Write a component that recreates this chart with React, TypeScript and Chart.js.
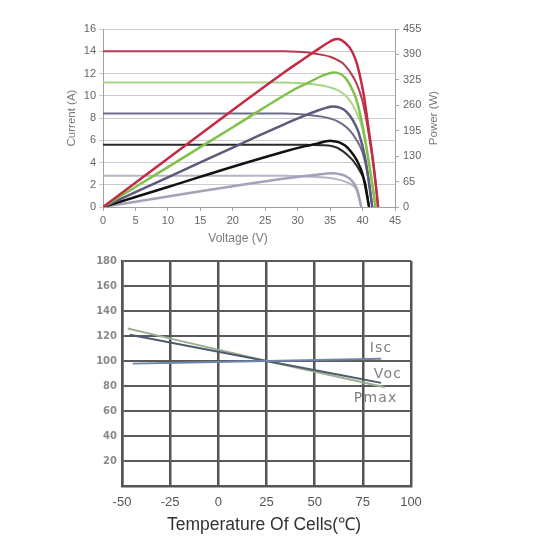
import { useEffect, useRef } from "react";
import { Chart, registerables } from "chart.js";

Chart.register(...registerables);

// ---------- I-V and P-V characteristics at five irradiance levels ----------
// Current curves (A, left axis)
const ivRedV = [0, 28, 30, 32, 34, 35, 36, 37, 38, 39, 40, 41, 42, 42.4];
const ivRedI = [14, 14, 13.95, 13.85, 13.65, 13.5, 13.25, 12.9, 12.2, 11.2, 9.5, 6.4, 2.3, 0];
const ivGreenV = [0, 28, 30, 32, 34, 35, 36, 37, 38, 39, 40, 41, 42];
const ivGreenI = [11.2, 11.2, 11.15, 11.05, 10.9, 10.75, 10.55, 10.2, 9.6, 8.6, 7.0, 4.0, 0];
const ivSlateV = [0, 28, 30, 32, 34, 35, 36, 37, 38, 39, 40, 41, 41.5];
const ivSlateI = [8.4, 8.4, 8.35, 8.25, 8.1, 7.95, 7.75, 7.4, 6.9, 6.1, 4.9, 2.2, 0];
const ivBlackV = [0, 28, 30, 32, 34, 36, 37, 38, 38.5, 39, 39.8, 40.4, 41];
const ivBlackI = [5.6, 5.6, 5.6, 5.58, 5.55, 5.35, 5.0, 4.5, 4.2, 3.8, 3.0, 2.2, 0];
const ivGrayV = [0, 28, 31, 33, 35, 36, 37, 38, 39, 39.8];
const ivGrayI = [2.8, 2.8, 2.75, 2.7, 2.6, 2.5, 2.35, 2.1, 1.6, 0];

// Power curves (W, right axis)
const pvRedV = [0, 10, 20, 28, 30.8, 32.5, 34, 35, 35.8, 36.8, 38, 38.9, 39.6, 40.2, 40.8, 41.6, 42.4];
const pvRedP = [0, 124, 248, 345, 377, 396, 413, 423, 429, 426, 408, 378, 335, 285, 215, 120, 0];
const pvGreenV = [0, 10, 20, 28.8, 31.9, 34, 35.5, 36.6, 37.5, 38.6, 39.3, 40.2, 41.2, 42];
const pvGreenP = [0, 102, 204, 294, 320, 337, 344, 340, 327, 294, 260, 190, 90, 0];
const pvSlateV = [0, 10, 20, 28, 31, 33, 34.5, 35.3, 36.5, 37.5, 38.5, 39.4, 40.4, 41.5];
const pvSlateP = [0, 76, 152, 212, 233, 246, 254, 257, 254, 244, 222, 190, 125, 0];
const pvBlackV = [0, 10, 20, 28, 31, 33, 34.4, 35.2, 36.3, 37.3, 38.2, 39.1, 40, 41];
const pvBlackP = [0, 51, 103, 142, 155, 162, 168, 169, 166, 157, 142, 120, 84, 0];
const pvGrayV = [0, 10, 20, 28, 31, 33, 34.3, 35.3, 36.4, 37.4, 38.3, 39.1, 39.8];
const pvGrayP = [0, 27, 53, 73, 79, 82.5, 85, 86, 84, 79, 68, 48, 0];

// ---------- Temperature dependence (25 ℃ = 100) ----------
const iscTemp = [-44.5, 25, 84.5];
const iscPct = [97.9, 100, 101.8];
const vocTemp = [-46, 25, 84.5];
const vocPct = [121, 100, 82.5];
const pmaxTemp = [-47, 25, 86.5];
const pmaxPct = [126, 100, 79];

const curveLabels = ["Isc", "Voc", "Pmax"];
const curveLabelAt = [
  [78.6, 110.3],
  [80.7, 89.7],
  [70.3, 69.8],
];

const SANS = '"Liberation Sans", Arial, sans-serif';

const pts = (xs: number[], ys: number[]) => xs.map((x, i) => ({ x, y: ys[i] }));

// smooth = true: rounded spline (power curves); otherwise monotone (I-V curves)
const curve = (xs: number[], ys: number[], color: string, width: number, axis: string, smooth = false) => ({
  data: pts(xs, ys),
  borderColor: color,
  backgroundColor: color,
  borderWidth: width,
  pointRadius: 0,
  fill: false,
  cubicInterpolationMode: smooth ? ("default" as const) : ("monotone" as const),
  tension: smooth ? 0.4 : 0,
  yAxisID: axis,
});

export default function App() {
  const topRef = useRef<HTMLCanvasElement>(null);
  const botRef = useRef<HTMLCanvasElement>(null);

  useEffect(() => {
    const topTitles = {
      id: "topTitles",
      afterDraw(chart: any) {
        const { ctx, chartArea } = chart;
        ctx.save();
        ctx.fillStyle = "#7a7a7a";
        ctx.textAlign = "center";
        ctx.textBaseline = "middle";
        ctx.font = `11.5px ${SANS}`;
        const midY = (chartArea.top + chartArea.bottom) / 2;
        ctx.save();
        ctx.translate(chartArea.left - 31, midY);
        ctx.rotate(-Math.PI / 2);
        ctx.fillText("Current (A)", 0, 0);
        ctx.restore();
        ctx.save();
        ctx.translate(chartArea.right + 39, midY);
        ctx.rotate(-Math.PI / 2);
        ctx.fillText("Power (W)", 0, 0);
        ctx.restore();
        ctx.font = `12px ${SANS}`;
        ctx.fillText("Voltage (V)", chartArea.left + 135, chartArea.bottom + 32);
        ctx.restore();
      },
    };

    const top = new Chart(topRef.current!, {
      type: "line",
      data: {
        datasets: [
          curve(pvRedV, pvRedP, "#c42a45", 2.5, "yP", true),
          curve(ivRedV, ivRedI, "#b53a52", 2, "yI"),
          curve(pvGreenV, pvGreenP, "#7fc24a", 2.5, "yP", true),
          curve(ivGreenV, ivGreenI, "#a8d685", 2, "yI"),
          curve(pvSlateV, pvSlateP, "#5b5a7a", 2.5, "yP", true),
          curve(ivSlateV, ivSlateI, "#6e6e88", 2, "yI"),
          curve(pvBlackV, pvBlackP, "#111111", 2.5, "yP", true),
          curve(ivBlackV, ivBlackI, "#2a2a2a", 2, "yI"),
          curve(pvGrayV, pvGrayP, "#a4a2b8", 2.5, "yP", true),
          curve(ivGrayV, ivGrayI, "#b6b6c2", 2, "yI"),
        ] as any,
      },
      options: {
        responsive: false,
        animation: false,
        devicePixelRatio: 1,
        layout: { padding: { top: 29, left: 0, right: 0, bottom: 0 } },
        plugins: { legend: { display: false }, tooltip: { enabled: false } },
        scales: {
          x: {
            type: "linear",
            min: 0,
            max: 45,
            afterFit: (s: any) => {
              s.height = 53;
            },
            ticks: { stepSize: 5, color: "#666", padding: 3, font: { family: SANS, size: 11 } },
            grid: { drawOnChartArea: false, color: "#a8a8a8", tickLength: 4 },
            border: { color: "#a0a0a0", width: 1 },
          },
          yI: {
            position: "left",
            min: 0,
            max: 16,
            afterFit: (s: any) => {
              s.width = 103;
            },
            ticks: { stepSize: 2, color: "#666", padding: 3, font: { family: SANS, size: 11 } },
            grid: { color: "#cccccc", lineWidth: 1, tickLength: 4 },
            border: { color: "#a0a0a0", width: 1 },
          },
          yP: {
            position: "right",
            min: 0,
            max: 455,
            afterFit: (s: any) => {
              s.width = 155;
            },
            ticks: { stepSize: 65, color: "#666", padding: 4, font: { family: SANS, size: 11 } },
            grid: { drawOnChartArea: false, color: "#a8a8a8", tickLength: 4 },
            border: { color: "#a0a0a0", width: 1 },
          },
        },
      } as any,
      plugins: [topTitles],
    });

    const botTitles = {
      id: "botTitles",
      afterDraw(chart: any) {
        const { ctx, chartArea, scales } = chart;
        ctx.save();
        ctx.fillStyle = "#808080";
        ctx.textAlign = "left";
        ctx.textBaseline = "middle";
        ctx.font = `14px "DejaVu Sans", sans-serif`;
        (ctx as any).letterSpacing = "1.2px";
        curveLabels.forEach((t, i) => {
          ctx.fillText(t, scales.x.getPixelForValue(curveLabelAt[i][0]), scales.y.getPixelForValue(curveLabelAt[i][1]));
        });
        (ctx as any).letterSpacing = "0px";
        ctx.fillStyle = "#333";
        ctx.textAlign = "center";
        ctx.font = `17.5px ${SANS}`;
        ctx.fillText("Temperature Of Cells(℃)", chartArea.left + 142, chartArea.bottom + 39);
        ctx.restore();
      },
    };

    const bot = new Chart(botRef.current!, {
      type: "line",
      data: {
        datasets: [
          curve(iscTemp, iscPct, "#6f86a8", 2, "y"),
          curve(vocTemp, vocPct, "#4f5b6e", 2, "y"),
          curve(pmaxTemp, pmaxPct, "#9bb08f", 2, "y"),
        ] as any,
      },
      options: {
        responsive: false,
        animation: false,
        devicePixelRatio: 1,
        layout: { padding: { top: 9, left: 0, right: 139, bottom: 0 } },
        plugins: { legend: { display: false }, tooltip: { enabled: false } },
        scales: {
          x: {
            type: "linear",
            min: -50,
            max: 100,
            afterFit: (s: any) => {
              s.height = 64;
            },
            ticks: { stepSize: 25, color: "#555", padding: 9, font: { family: SANS, size: 13 } },
            grid: { color: "#555", lineWidth: 2.5, drawTicks: false },
            border: { color: "#555", width: 2.5 },
          },
          y: {
            min: 0,
            max: 180,
            afterFit: (s: any) => {
              s.width = 122;
            },
            ticks: {
              stepSize: 20,
              color: "#8a8a8a",
              padding: 5,
              font: { family: '"DejaVu Sans", sans-serif', size: 10, weight: "bold" },
              callback: (v: any) => (v === 0 ? "" : String(v)),
            },
            grid: { color: "#5a5a5a", lineWidth: 2, drawTicks: false },
            border: { color: "#555", width: 2.5 },
          },
        },
      } as any,
      plugins: [botTitles],
    });

    return () => {
      top.destroy();
      bot.destroy();
    };
  }, []);

  return (
    <div style={{ position: "absolute", left: 0, top: 0, width: 550, height: 550, background: "#fff" }}>
      <canvas
        ref={topRef}
        width={550}
        height={260}
        style={{ position: "absolute", left: 0, top: 0, width: 550, height: 260 }}
      />
      <canvas
        ref={botRef}
        width={550}
        height={300}
        style={{ position: "absolute", left: 0, top: 250, width: 550, height: 300 }}
      />
    </div>
  );
}
